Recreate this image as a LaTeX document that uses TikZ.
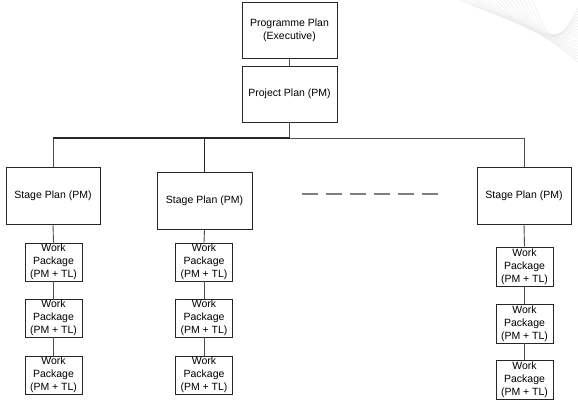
\documentclass[tikz,border=0pt]{standalone}
\usepackage{fontspec}
\setmainfont{Liberation Sans}
\begin{document}
\begin{tikzpicture}[x=1pt,y=-1pt,
  box/.style={draw=black!85,line width=0.9pt,inner sep=0pt,align=center,
    font=\fontsize{10.5}{13}\selectfont},
  bigbox/.style={box,minimum width=95pt,minimum height=56pt},
  wpbox/.style={box,minimum width=57pt,minimum height=38pt},
  conn/.style={draw=black!70,line width=0.9pt},
  thickconn/.style={draw=black!85,line width=1.4pt},
  gap/.style={draw=black!50,line width=2pt,dash pattern=on 15.5pt off 8.5pt},
  wm/.style={draw=black!8,line width=0.5pt}]
\useasboundingbox (0,0) rectangle (578,408);
% faint watermark top right
\foreach \i in {0,...,18}{
  \draw[wm] (460+4*\i,0) .. controls (495+3*\i,16+1.2*\i) and (535+1*\i,24+1.8*\i) .. (578,62-3*\i);
}
\node[bigbox] (prog) at (289.5,30.5) {Programme Plan\\(Executive)};
\node[bigbox] (proj) at (289.5,94) {Project Plan (PM)};
\node[bigbox,minimum width=94pt,minimum height=57pt] (s1) at (53,195.5) {Stage Plan (PM)};
\node[bigbox,minimum height=57pt] (s2) at (204.5,200.5) {Stage Plan (PM)};
\node[bigbox,minimum width=94pt,minimum height=57pt] (s3) at (524,195.5) {Stage Plan (PM)};
\node[wpbox] (a1) at (53.5,262) {Work\\Package\\(PM + TL)};
\node[wpbox] (a2) at (53.5,318) {Work\\Package\\(PM + TL)};
\node[wpbox] (a3) at (53.5,375) {Work\\Package\\(PM + TL)};
\node[wpbox] (b1) at (204,262) {Work\\Package\\(PM + TL)};
\node[wpbox] (b2) at (204,318) {Work\\Package\\(PM + TL)};
\node[wpbox] (b3) at (204,375) {Work\\Package\\(PM + TL)};
\node[wpbox,minimum height=39pt] (c1) at (524.5,266.5) {Work\\Package\\(PM + TL)};
\node[wpbox,minimum height=39pt] (c2) at (524.5,323.5) {Work\\Package\\(PM + TL)};
\node[wpbox,minimum height=39pt] (c3) at (524.5,380) {Work\\Package\\(PM + TL)};
\coordinate (bar) at (289.5,138);
\coordinate (g1) at (302,194);
\coordinate (g2) at (440,194);
% connectors
\draw[conn] (prog.south) -- (proj.north);
\draw[conn] (proj.south) -- (bar);
\draw[conn] (bar -| s1.north) -- (s1.north);
\draw[thickconn] (bar) -- (bar -| s1.north);
\draw[thickconn] (bar -| s2.north) -- (s2.north);
\draw[conn] (bar) -| (s3.north);
\draw[conn] (s1.south) -- (a1.north);
\draw[conn] (a1.south) -- (a2.north);
\draw[conn] (a2.south) -- (a3.north);
\draw[conn] (s2.south) -- (b1.north);
\draw[conn] (b1.south) -- (b2.north);
\draw[conn] (b2.south) -- (b3.north);
\draw[conn] (s3.south) -- (c1.north);
\draw[conn] (c1.south) -- (c2.north);
\draw[conn] (c2.south) -- (c3.north);
\draw[gap] (g1) -- (g2);
\end{tikzpicture}
\end{document}
